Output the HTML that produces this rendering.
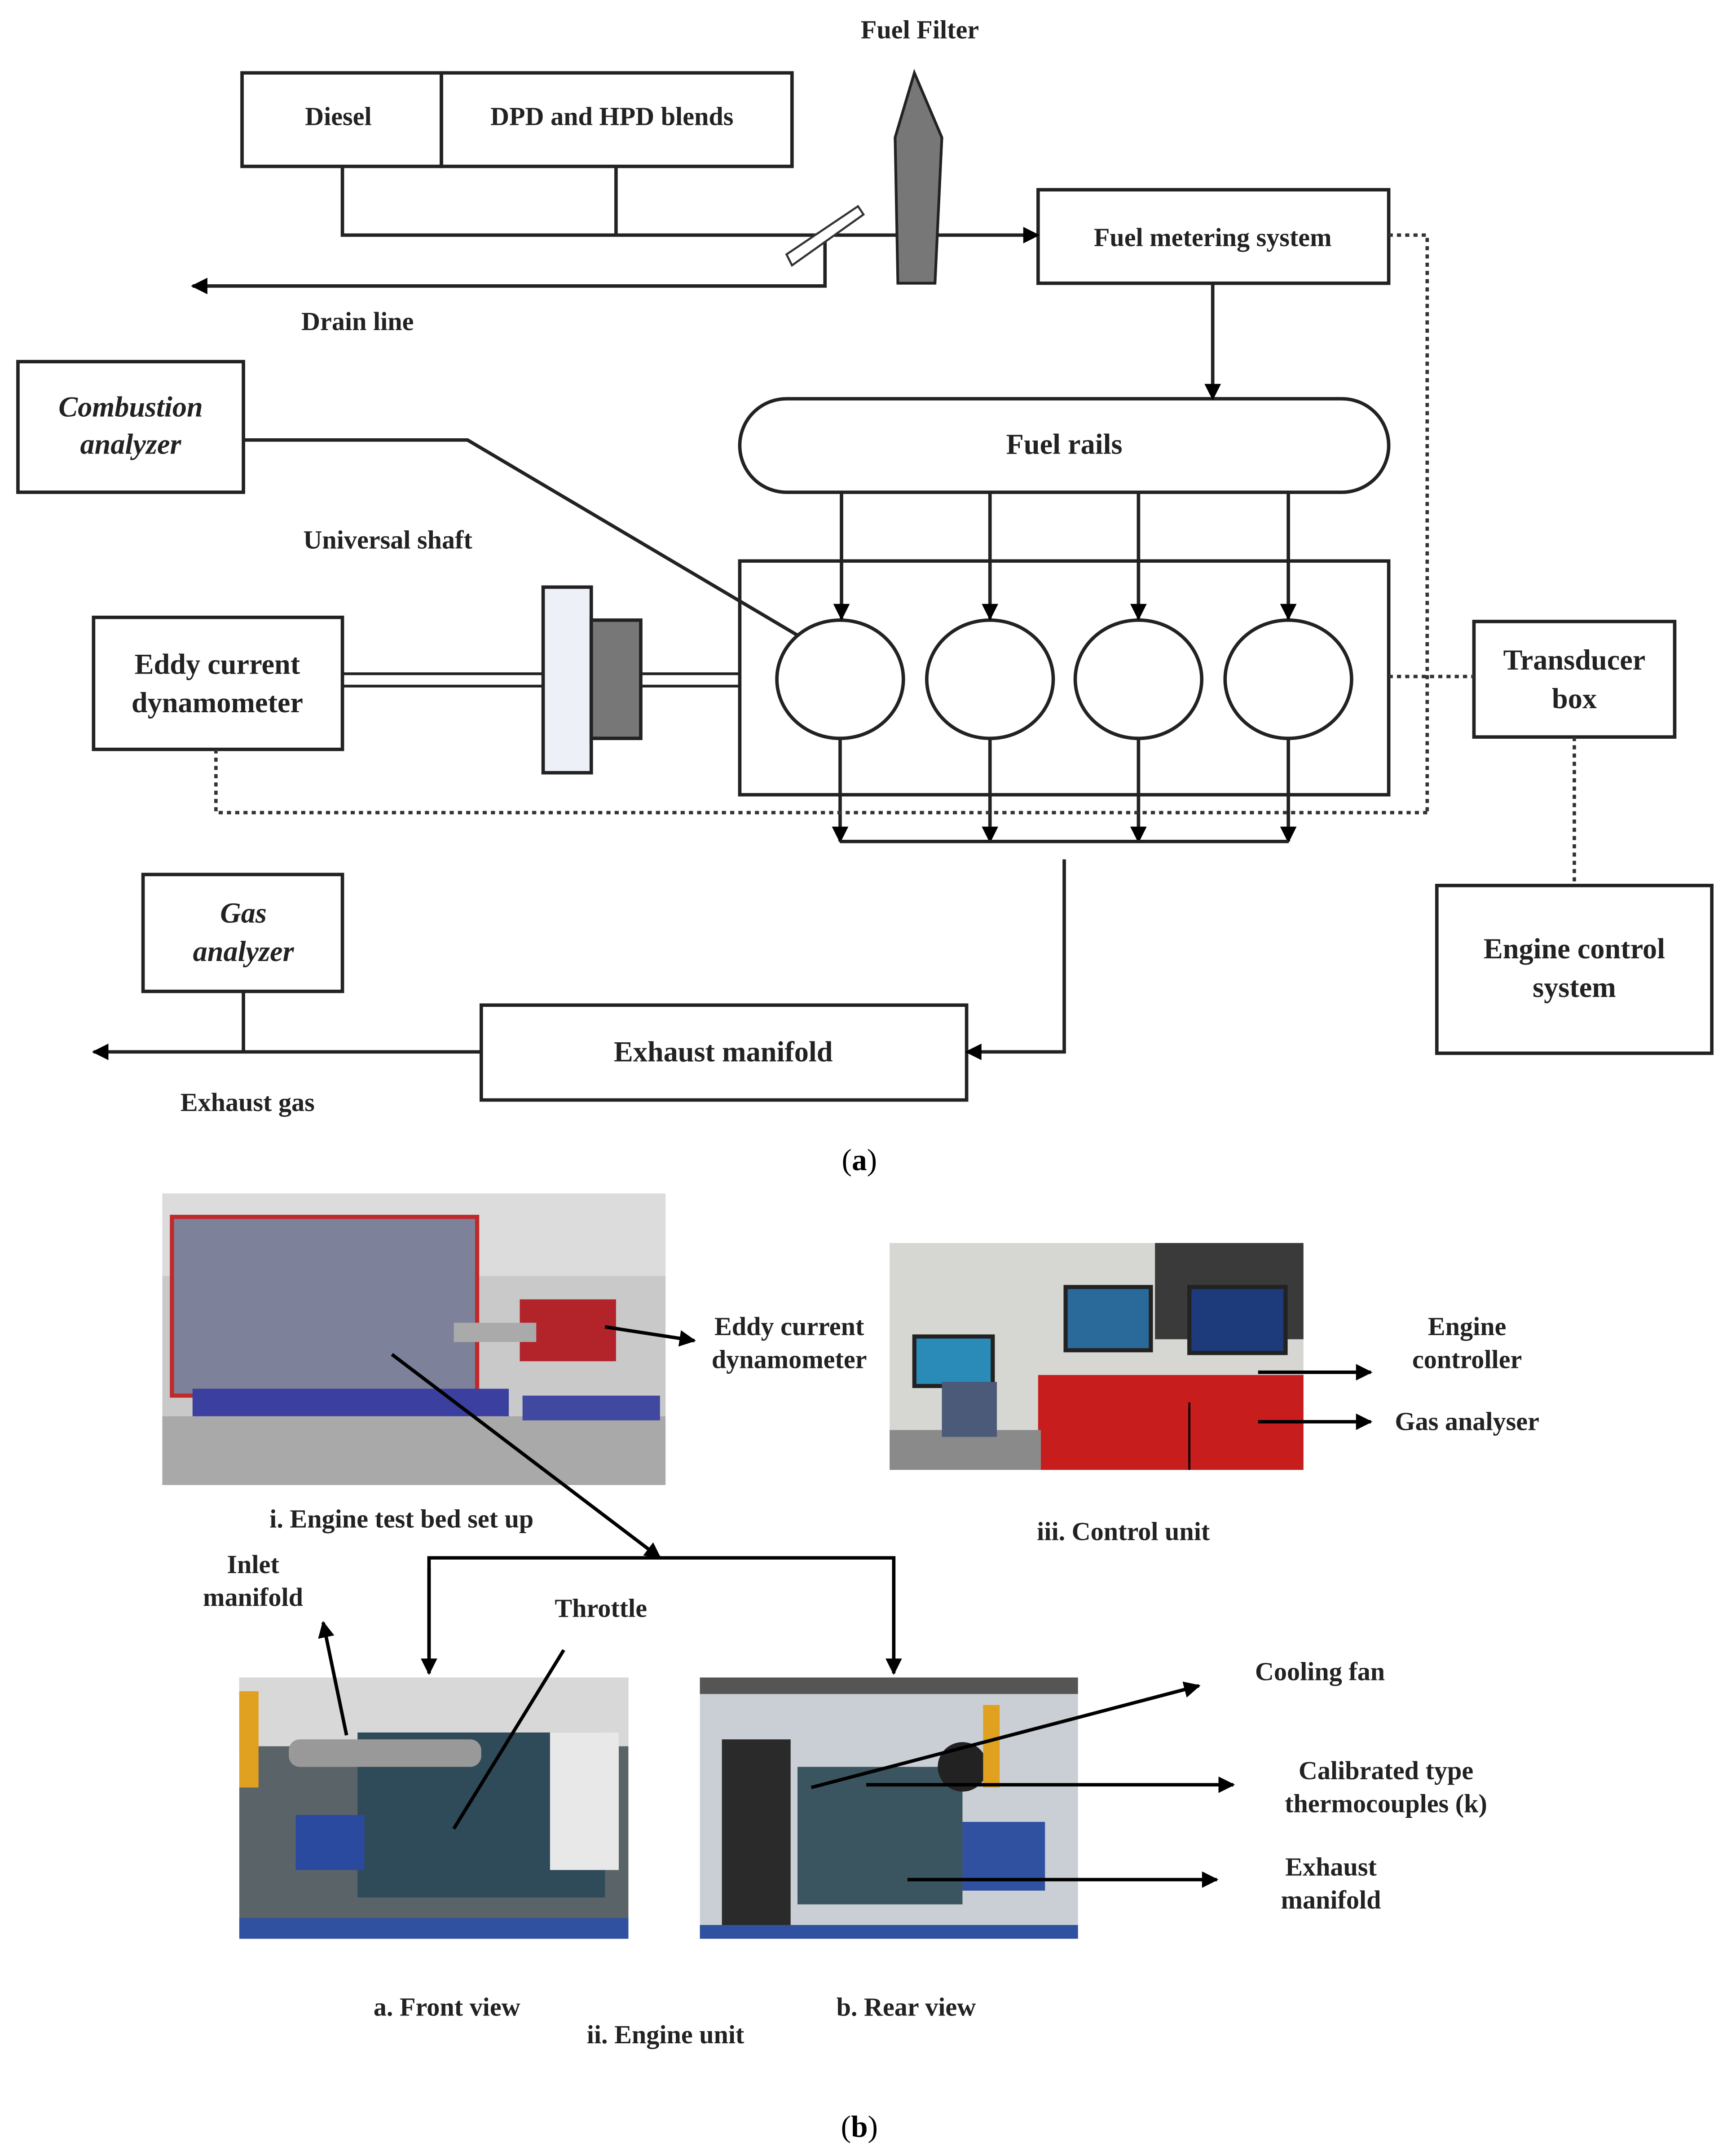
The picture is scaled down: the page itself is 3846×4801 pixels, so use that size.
<!DOCTYPE html>
<html><head><meta charset="utf-8"><style>html,body{margin:0;padding:0;background:#fff}svg{display:block}</style></head><body>
<svg xmlns="http://www.w3.org/2000/svg" width="3846" height="4801" viewBox="0 0 1256 1568">
<defs>
<marker id="ar" viewBox="0 0 10 10" refX="9" refY="5" markerWidth="15" markerHeight="12" orient="auto-start-reverse" markerUnits="userSpaceOnUse"><path d="M0,0 L10,5 L0,10 z" fill="#000"/></marker>
<marker id="ab" viewBox="0 0 10 10" refX="9" refY="5" markerWidth="16" markerHeight="12" orient="auto" markerUnits="userSpaceOnUse"><path d="M0,0 L10,5 L0,10 z" fill="#000"/></marker>
</defs>
<rect width="1256" height="1568" fill="#fff"/>
<g font-family="Liberation Serif, serif" font-weight="bold" font-size="19" fill="#222" text-anchor="middle" stroke="none">
<text x="669" y="28">Fuel Filter</text>
<text x="246" y="91">Diesel</text>
<text x="445" y="91">DPD and HPD blends</text>
<text x="882" y="179">Fuel metering system</text>
<text x="260" y="240">Drain line</text>
<text x="774" y="330" font-size="21">Fuel rails</text>
<text x="95" y="303" font-style="italic" font-size="21">Combustion</text>
<text x="95" y="330" font-style="italic" font-size="21">analyzer</text>
<text x="282" y="399">Universal shaft</text>
<text x="158" y="490" font-size="21">Eddy current</text>
<text x="158" y="518" font-size="21">dynamometer</text>
<text x="1145" y="487" font-size="21">Transducer</text>
<text x="1145" y="515" font-size="21">box</text>
<text x="1145" y="697" font-size="21">Engine control</text>
<text x="1145" y="725" font-size="21">system</text>
<text x="177" y="671" font-style="italic" font-size="21">Gas</text>
<text x="177" y="699" font-style="italic" font-size="21">analyzer</text>
<text x="526" y="772" font-size="21">Exhaust manifold</text>
<text x="180" y="808">Exhaust gas</text>
<text x="625" y="851" font-weight="normal" font-size="22" fill="#000">(<tspan font-weight="bold">a</tspan>)</text>
<text x="625" y="1554" font-weight="normal" font-size="22" fill="#000">(<tspan font-weight="bold">b</tspan>)</text>
<text x="574" y="971">Eddy current</text>
<text x="574" y="995">dynamometer</text>
<text x="1067" y="971">Engine</text>
<text x="1067" y="995">controller</text>
<text x="1067" y="1040">Gas analyser</text>
<text x="292" y="1111">i. Engine test bed set up</text>
<text x="817" y="1120">iii. Control unit</text>
<text x="184" y="1144">Inlet</text>
<text x="184" y="1168">manifold</text>
<text x="437" y="1176">Throttle</text>
<text x="960" y="1222">Cooling fan</text>
<text x="1008" y="1294">Calibrated type</text>
<text x="1008" y="1318">thermocouples (k)</text>
<text x="968" y="1364">Exhaust</text>
<text x="968" y="1388">manifold</text>
<text x="325" y="1466">a. Front view</text>
<text x="484" y="1486">ii. Engine unit</text>
<text x="659" y="1466">b. Rear view</text>
</g>
<g fill="none" stroke="#222" stroke-width="2.5">
<rect x="176" y="53" width="145" height="68"/>
<rect x="321" y="53" width="255" height="68"/>
<rect x="755" y="138" width="255" height="68"/>
<rect x="538" y="290" width="472" height="68" rx="34"/>
<rect x="538" y="408" width="472" height="170"/>
<rect x="13" y="263" width="164" height="95"/>
<rect x="68" y="449" width="181" height="96"/>
<rect x="1072" y="452" width="146" height="84"/>
<rect x="1045" y="644" width="200" height="122"/>
<rect x="104" y="636" width="145" height="85"/>
<rect x="350" y="731" width="353" height="69"/>
<ellipse cx="611" cy="494" rx="46" ry="43"/>
<ellipse cx="720" cy="494" rx="46" ry="43"/>
<ellipse cx="828" cy="494" rx="46" ry="43"/>
<ellipse cx="937" cy="494" rx="46" ry="43"/>
<path d="M249,121 V171 H755" marker-end="url(#ar)"/>
<path d="M448,121 V171"/>
<path d="M600,175 V208 H140" marker-end="url(#ar)"/>
<path d="M882,206 V290" marker-end="url(#ar)"/>
<path d="M612,358 V450" marker-end="url(#ar)"/>
<path d="M720,358 V450" marker-end="url(#ar)"/>
<path d="M828,358 V450" marker-end="url(#ar)"/>
<path d="M937,358 V450" marker-end="url(#ar)"/>
<path d="M611,537 V612" marker-end="url(#ar)"/>
<path d="M720,537 V612" marker-end="url(#ar)"/>
<path d="M828,537 V612" marker-end="url(#ar)"/>
<path d="M937,537 V612" marker-end="url(#ar)"/>
<path d="M611,612 H937"/>
<path d="M774,625 V765 H703" marker-end="url(#ar)"/>
<path d="M177,721 V765"/>
<path d="M350,765 H68" marker-end="url(#ar)"/>
<path d="M177,320 H340 L580,462"/>
<path d="M249,490 H395 M249,499 H395 M466,490 H538 M466,499 H538" stroke-width="2"/>
</g>
<g fill="none" stroke="#333" stroke-width="2.5" stroke-dasharray="3,3">
<path d="M1010,171 H1038 V591"/>
<path d="M157,545 V591 H1038"/>
<path d="M1010,492 H1072"/>
<path d="M1145,536 V644"/>
</g>
<polygon points="572,185 624,150 628,156 576,193" fill="#fff" stroke="#333" stroke-width="1.5"/>
<polygon points="665,53 651,100 653,206 680,206 685,100" fill="#777" stroke="#222" stroke-width="2"/>
<rect x="395" y="427" width="35" height="135" fill="#eef0f8" stroke="#222" stroke-width="2.5"/>
<rect x="430" y="451" width="36" height="86" fill="#777" stroke="#222" stroke-width="2.5"/>
<g>
<rect x="118" y="868" width="366" height="212" fill="#c9c9c9"/>
<rect x="118" y="868" width="366" height="60" fill="#dcdcdc"/>
<rect x="118" y="1030" width="366" height="50" fill="#a9a9a9"/>
<rect x="125" y="885" width="222" height="130" fill="#7d8199" stroke="#c0282a" stroke-width="3"/>
<rect x="140" y="1010" width="230" height="20" fill="#3a3fa0"/>
<rect x="380" y="1015" width="100" height="18" fill="#4048a0"/>
<rect x="378" y="945" width="70" height="45" fill="#b2232a"/>
<rect x="330" y="962" width="60" height="14" fill="#aaa"/>
</g>
<g>
<rect x="647" y="904" width="301" height="165" fill="#d6d6d2"/>
<rect x="840" y="904" width="108" height="70" fill="#3a3a3a"/>
<rect x="865" y="936" width="70" height="48" fill="#1d3a7a" stroke="#222" stroke-width="3"/>
<rect x="775" y="936" width="62" height="46" fill="#2a6a9a" stroke="#222" stroke-width="3"/>
<rect x="665" y="972" width="57" height="36" fill="#2a8ab8" stroke="#222" stroke-width="3"/>
<rect x="755" y="1000" width="193" height="69" fill="#c81d1d"/>
<rect x="647" y="1040" width="110" height="29" fill="#8a8a8a"/>
<rect x="685" y="1005" width="40" height="40" fill="#4a5a78"/>
</g>
<g>
<rect x="174" y="1220" width="283" height="190" fill="#5a6468"/>
<rect x="174" y="1220" width="283" height="50" fill="#d8d8d8"/>
<rect x="260" y="1260" width="180" height="120" fill="#2f4a58"/>
<rect x="210" y="1265" width="140" height="20" fill="#999" rx="8"/>
<rect x="174" y="1230" width="14" height="70" fill="#e0a020"/>
<rect x="215" y="1320" width="50" height="40" fill="#2a4aa0"/>
<rect x="400" y="1260" width="50" height="100" fill="#e8e8e8"/>
<rect x="174" y="1395" width="283" height="15" fill="#3050a0"/>
</g>
<g>
<rect x="509" y="1220" width="275" height="190" fill="#c9cfd4"/>
<rect x="509" y="1220" width="275" height="12" fill="#555"/>
<rect x="525" y="1265" width="50" height="140" fill="#2a2a2a"/>
<rect x="580" y="1285" width="120" height="100" fill="#3a5560"/>
<circle cx="700" cy="1285" r="18" fill="#222"/>
<rect x="715" y="1240" width="12" height="60" fill="#e0a020"/>
<rect x="700" y="1325" width="60" height="50" fill="#3050a0"/>
<rect x="509" y="1400" width="275" height="10" fill="#3050a0"/>
</g>
<g fill="none" stroke="#000" stroke-width="2.5">
<path d="M440,965 L505,975" marker-end="url(#ab)"/>
<path d="M285,985 L480,1133" marker-end="url(#ab)"/>
<path d="M312,1217 V1133 H650 V1217" marker-end="url(#ab)"/>
<path d="M312,1140 V1217" marker-end="url(#ab)"/>
<path d="M915,998 H997" marker-end="url(#ab)"/>
<path d="M915,1034 H997" marker-end="url(#ab)"/>
<path d="M865,1020 V1069" stroke-width="1.5"/>
<path d="M252,1262 L235,1180" marker-end="url(#ab)"/>
<path d="M410,1200 L330,1330"/>
<path d="M590,1300 L872,1226" marker-end="url(#ab)"/>
<path d="M630,1298 H897" marker-end="url(#ab)"/>
<path d="M660,1367 H885" marker-end="url(#ab)"/>
</g>
</svg>
</body></html>
